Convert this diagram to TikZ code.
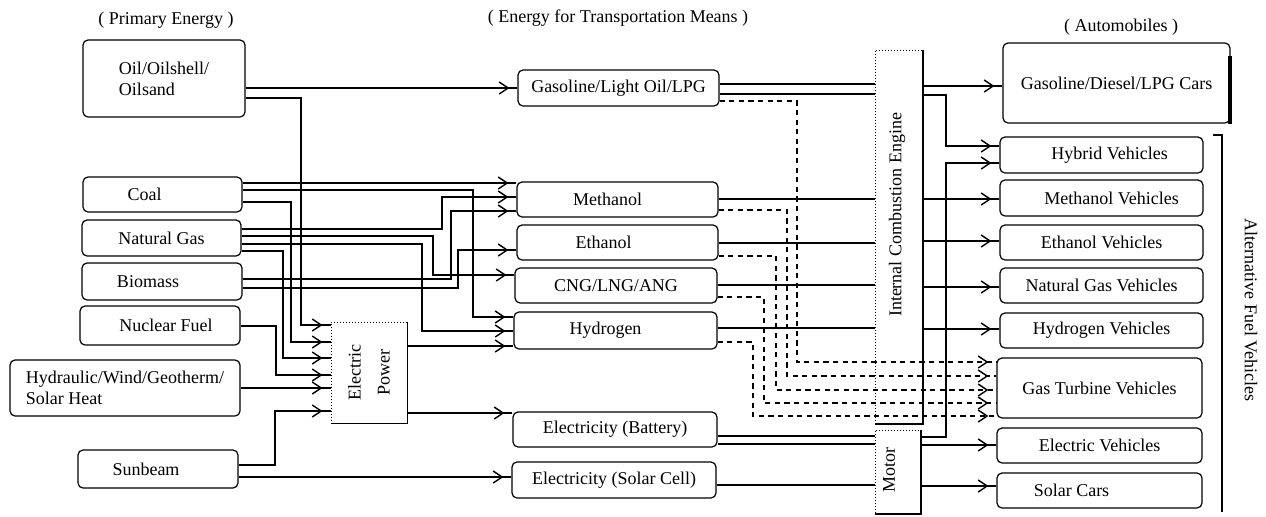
\documentclass[tikz,border=0pt]{standalone}
\usepackage{fontspec}
\setmainfont{Liberation Serif}
\usetikzlibrary{arrows.meta, decorations.markings, fit}

\begin{document}
\begin{tikzpicture}[x=0.5pt, y=-0.5pt,
    font=\fontsize{9}{10.5}\selectfont,
    box/.style={draw, line width=0.6pt, rounded corners=2.5pt, inner sep=0pt},
    faint/.style={draw, densely dotted, line width=0.5pt, inner sep=0pt},
    link/.style={line width=0.7pt},
    feed/.style={link, postaction={decorate, decoration={markings,
        mark=at position -4pt with {\arrow{Straight Barb[length=4.5pt, width=6pt, line width=0.7pt]}}}}},
    dashfeed/.style={feed, line width=0.9pt, dash pattern=on 2.6pt off 2.2pt}]

\useasboundingbox (0,0) rectangle (1266,516);

% --- Column titles ---
\node (ttlprim)  at (166,20)  {( Primary Energy )};
\node (ttltrans) at (618,18)  {( Energy for Transportation Means )};
\node (ttlauto)  at (1121,27) {( Automobiles )};

% --- Primary energy ---
\node[box, fit={(83,40) (245,117)}, label={[align=left]center:Oil/Oilshell/\\Oilsand}] (oil) {};
\node[box, fit={(83,177) (242,212)}, label={[xshift=-9pt]center:Coal}] (coal) {};
\node[box, fit={(82,220) (241,256)}, label={center:Natural Gas}] (gas) {};
\node[box, fit={(82,263) (242,300)}, label={[xshift=-7pt]center:Biomass}] (bio) {};
\node[box, fit={(80,306) (240,345)}, label={[xshift=3pt]center:Nuclear Fuel}] (nuc) {};
\node[box, fit={(10,360) (240,416)}, label={[align=left]center:Hydraulic/Wind/Geotherm/\\Solar Heat}] (hyd) {};
\node[box, fit={(78,450) (238,488)}, label={[xshift=-6pt]center:Sunbeam}] (sun) {};

% --- Electric power (conversion) ---
\node[faint, fit={(331,322) (407,423)}] (ep) {};
\draw[link] (ep.north east) -- (ep.south east) -- (ep.south west);
\node[rotate=90, align=center] (eplbl) at (ep.center) {Electric\\[4pt]Power};

% --- Energy for transportation means ---
\node[box, fit={(518,70) (719,106)},  label={center:Gasoline/Light Oil/LPG}] (gso) {};
\node[box, fit={(517,182) (718,217)}, label={[xshift=-5pt]center:Methanol}] (meth) {};
\node[box, fit={(517,225) (718,260)}, label={[xshift=-7pt]center:Ethanol}] (eth) {};
\node[box, fit={(515,268) (717,303)}, label={center:CNG/LNG/ANG}] (cng) {};
\node[box, fit={(514,312) (717,349)}, label={[xshift=-5pt]center:Hydrogen}] (hyg) {};
\node[box, fit={(513,412) (717,447)}, label={center:Electricity (Battery)}] (bat) {};
\node[box, fit={(512,462) (716,498)}, label={center:Electricity (Solar Cell)}] (sol) {};

% --- Engine and motor ---
\node[faint, fit={(875,50) (922,423)}] (ice) {};
\draw[line width=1pt] (ice.north east) -- (ice.south east) -- (ice.south west);
\node[rotate=90] (icelbl) at (897,215) {Internal Combustion Engine};
\node[faint, fit={(875,430) (920,513)}] (mot) {};
\draw[line width=1pt] (mot.north east) -- (mot.south east) -- (mot.south west);
\node[rotate=90] (motlbl) at (889,470) {Motor};

% --- Automobiles ---
\node[box, fit={(1003,43) (1230,123)}, label={center:Gasoline/Diesel/LPG Cars}] (gdl) {};
\draw[line width=2.2pt] (1230,56) -- (1230,124);
\node[box, fit={(1000,137) (1203,173)}, label={[xshift=4pt]center:Hybrid Vehicles}] (hyb) {};
\node[box, fit={(1000,180) (1203,216)}, label={[xshift=5pt]center:Methanol Vehicles}] (mv) {};
\node[box, fit={(1000,225) (1203,260)}, label={center:Ethanol Vehicles}] (etv) {};
\node[box, fit={(1000,268) (1203,303)}, label={center:Natural Gas Vehicles}] (ngv) {};
\node[box, fit={(1000,313) (1203,348)}, label={center:Hydrogen Vehicles}] (hv) {};
\node[box, fit={(997,358) (1202,418)},  label={center:Gas Turbine Vehicles}] (gtv) {};
\node[box, fit={(997,428) (1202,463)},  label={center:Electric Vehicles}] (elv) {};
\node[box, fit={(997,473) (1202,508)},  label={[xshift=-14pt]center:Solar Cars}] (sc) {};

% bracket for the alternative fuel group
\draw[link] (1213,135) -- (1222,135) -- (1222,512);
\node[rotate=-90] (afvlbl) at (1251,310) {Alternative Fuel Vehicles};

% --- Primary energy -> transportation energy ---
\draw[feed] (oil.east |- 0,88)  -- (gso.west |- 0,88);
\draw[feed] (oil.east |- 0,98)  -| (301,325) -- (ep.west |- 0,325);
\draw[feed] (coal.east |- 0,183) -- (meth.west |- 0,183);
\draw[feed] (coal.east |- 0,190) -| (473,317) -- (hyg.west |- 0,317);
\draw[feed] (coal.east |- 0,202) -| (291,342) -- (ep.west |- 0,342);
\draw[feed] (gas.east |- 0,229) -| (442,197) -- (meth.west |- 0,197);
\draw[feed] (gas.east |- 0,236) -| (433,275) -- (cng.west |- 0,275);
\draw[feed] (gas.east |- 0,244) -| (422,331) -- (hyg.west |- 0,331);
\draw[feed] (gas.east |- 0,251) -| (283,358) -- (ep.west |- 0,358);
\draw[feed] (bio.east |- 0,279) -| (451,211) -- (meth.west |- 0,211);
\draw[feed] (bio.east |- 0,288) -| (458,250) -- (eth.west |- 0,250);
\draw[feed] (nuc.east |- 0,326) -| (276,375) -- (ep.west |- 0,375);
\draw[feed] (hyd.east |- 0,388) -- (ep.west |- 0,388);
\draw[feed] (sun.east |- 0,465) -| (275,411) -- (ep.west |- 0,411);
\draw[feed] (sun.east |- 0,477) -- (sol.west |- 0,477);
\draw[feed] (ep.east |- 0,346) -- (hyg.west |- 0,346);
\draw[feed] (ep.east |- 0,413) -- (bat.west |- 0,413);

% --- Transportation energy -> engine / motor ---
\draw[link] (gso.east |- 0,84)  -- (ice.west |- 0,84);
\draw[link] (gso.east |- 0,94)  -- (ice.west |- 0,94);
\draw[link] (meth.east |- 0,199) -- (ice.west |- 0,199);
\draw[link] (eth.east |- 0,243) -- (ice.west |- 0,243);
\draw[link] (cng.east |- 0,285) -- (ice.west |- 0,285);
\draw[link] (hyg.east |- 0,328) -- (ice.west |- 0,328);
\draw[link] (bat.east |- 0,436) -- (mot.west |- 0,436);
\draw[link] (bat.east |- 0,444) -- (mot.west |- 0,444);
\draw[link] (sol.east |- 0,485) -- (mot.west |- 0,485);

% gas turbine routes (dashed)
\draw[dashfeed] (gso.east |- 0,101)  -| (797,362) -- (gtv.west |- 0,362);
\draw[dashfeed] (meth.east |- 0,210) -| (787,376) -- (gtv.west |- 0,376);
\draw[dashfeed] (eth.east |- 0,256)  -| (776,390) -- (gtv.west |- 0,390);
\draw[dashfeed] (cng.east |- 0,297)  -| (764,403) -- (gtv.west |- 0,403);
\draw[dashfeed] (hyg.east |- 0,342)  -| (753,416) -- (gtv.west |- 0,416);

% --- Engine / motor -> automobiles ---
\draw[feed] (ice.east |- 0,86)  -- (gdl.west |- 0,86);
\draw[feed] (ice.east |- 0,95)  -| (946,146) -- (hyb.west |- 0,146);
\draw[feed] (ice.east |- 0,199) -- (mv.west |- 0,199);
\draw[feed] (ice.east |- 0,241) -- (etv.west |- 0,241);
\draw[feed] (ice.east |- 0,287) -- (ngv.west |- 0,287);
\draw[feed] (ice.east |- 0,329) -- (hv.west |- 0,329);
\draw[feed] (mot.east |- 0,437) -| (946,163) -- (hyb.west |- 0,163);
\draw[feed] (mot.east |- 0,445) -- (elv.west |- 0,445);
\draw[feed] (mot.east |- 0,486) -- (sc.west |- 0,486);

\end{tikzpicture}
\end{document}
